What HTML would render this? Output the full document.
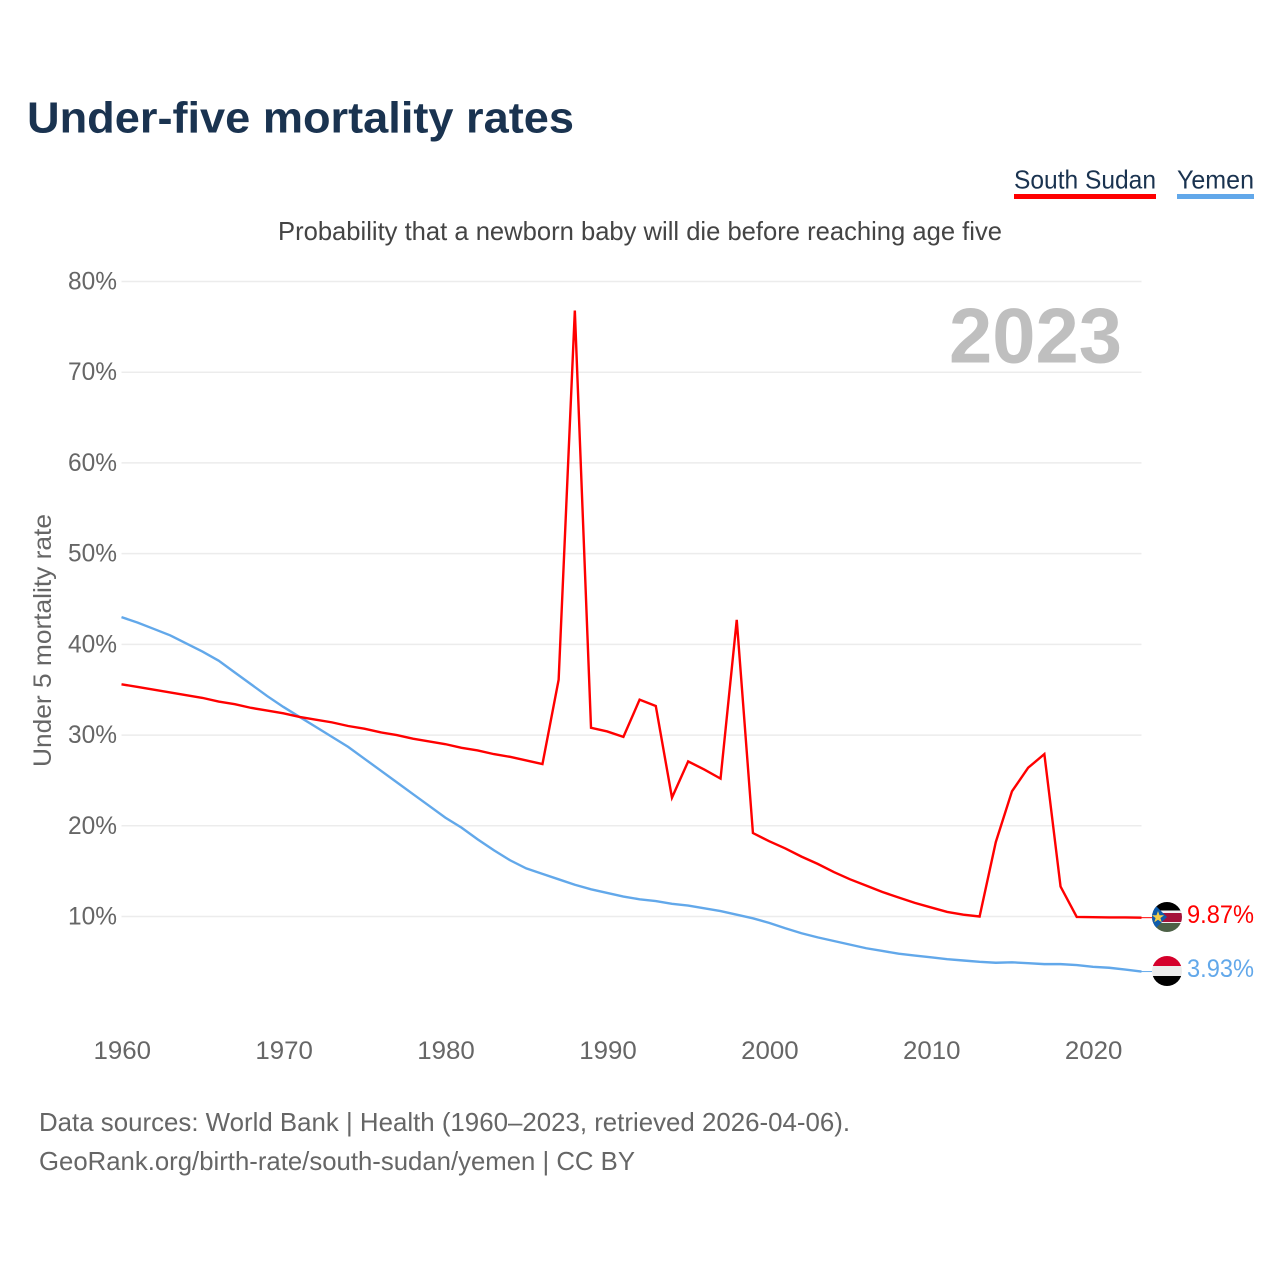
<!DOCTYPE html>
<html lang="en">
<head>
<meta charset="utf-8">
<title>Under-five mortality rates</title>
<style>
html,body{margin:0;padding:0;background:#fff;width:1280px;height:1280px;overflow:hidden}
svg{display:block}
text{font-family:"Liberation Sans",sans-serif}
</style>
</head>
<body>
<svg id="chart" xmlns="http://www.w3.org/2000/svg" width="1280" height="1280" viewBox="0 0 1280 1280">
  <rect width="1280" height="1280" fill="#fff"/>
  <text x="27" y="132.5" font-size="44" font-weight="700" fill="#1a3350" textLength="547" lengthAdjust="spacingAndGlyphs">Under-five mortality rates</text>
  <g>
    <text x="1014" y="188.5" font-size="26" fill="#1a3350" textLength="142" lengthAdjust="spacingAndGlyphs">South Sudan</text>
    <rect x="1014" y="194" width="142" height="5" fill="#ff0000"/>
  </g>
  <g>
    <text x="1177" y="188.5" font-size="26" fill="#1a3350" textLength="77" lengthAdjust="spacingAndGlyphs">Yemen</text>
    <rect x="1177" y="194" width="77" height="5" fill="#62a8ea"/>
  </g>
  <text x="278" y="240" font-size="26" fill="#444" textLength="724" lengthAdjust="spacingAndGlyphs">Probability that a newborn baby will die before reaching age five</text>
  <text transform="translate(51,767) rotate(-90)" font-size="25" fill="#666" textLength="253" lengthAdjust="spacingAndGlyphs">Under 5 mortality rate</text>
  <g id="grid"></g>
  <g id="yticks"></g>
  <g id="xticks"></g>
  <text x="949" y="362.5" font-size="78" font-weight="700" fill="#bfbfbf" textLength="173" lengthAdjust="spacingAndGlyphs">2023</text>
  <g id="series"></g>
  <defs>
    <clipPath id="clip-ss"><circle cx="1167" cy="917" r="15"/></clipPath>
    <clipPath id="clip-ye"><circle cx="1167" cy="971" r="15"/></clipPath>
  </defs>
  <g clip-path="url(#clip-ss)">
    <rect x="1152" y="902" width="30" height="10" fill="#000"/>
    <rect x="1152" y="910.5" width="30" height="13.5" fill="#f2f2f2"/>
    <rect x="1152" y="913" width="30" height="9" fill="#a5123a"/>
    <rect x="1152" y="923" width="30" height="9" fill="#4d6147"/>
    <polygon points="1152,902 1167,917 1152,932" fill="#0f5cab"/>
    <polygon points="1158,911 1159.5,915.2 1164,915.3 1160.4,918 1161.7,922.3 1158,919.8 1154.3,922.3 1155.6,918 1152,915.3 1156.5,915.2" fill="#f5cf4a"/>
  </g>
  <g clip-path="url(#clip-ye)">
    <rect x="1152" y="956" width="30" height="10" fill="#d5002b"/>
    <rect x="1152" y="966" width="30" height="10.5" fill="#ececec"/>
    <rect x="1152" y="976" width="30" height="10" fill="#000"/>
  </g>
  <text id="label-ss" x="1187" y="923" font-size="25" fill="#ff0000" textLength="67" lengthAdjust="spacingAndGlyphs"></text>
  <text id="label-ye" x="1187" y="977" font-size="25" fill="#62a8ea" textLength="67" lengthAdjust="spacingAndGlyphs"></text>
  <text x="39" y="1131" font-size="26" fill="#666" textLength="811" lengthAdjust="spacingAndGlyphs">Data sources: World Bank | Health (1960–2023, retrieved 2026-04-06).</text>
  <text x="39" y="1170" font-size="26" fill="#666" textLength="596" lengthAdjust="spacingAndGlyphs">GeoRank.org/birth-rate/south-sudan/yemen | CC BY</text>
</svg>
<script>
const years = [1960,1961,1962,1963,1964,1965,1966,1967,1968,1969,1970,1971,1972,1973,1974,1975,1976,1977,1978,1979,1980,1981,1982,1983,1984,1985,1986,1987,1988,1989,1990,1991,1992,1993,1994,1995,1996,1997,1998,1999,2000,2001,2002,2003,2004,2005,2006,2007,2008,2009,2010,2011,2012,2013,2014,2015,2016,2017,2018,2019,2020,2021,2022,2023];
const southSudan = [35.6,35.3,35.0,34.7,34.4,34.1,33.7,33.4,33.0,32.7,32.4,32.0,31.7,31.4,31.0,30.7,30.3,30.0,29.6,29.3,29.0,28.6,28.3,27.9,27.6,27.2,26.8,36.1,76.8,30.8,30.4,29.8,33.9,33.2,23.1,27.1,26.2,25.2,42.7,19.2,18.3,17.5,16.6,15.8,14.9,14.1,13.4,12.7,12.1,11.5,11.0,10.5,10.2,10.0,18.2,23.8,26.4,27.9,13.3,9.95,9.92,9.9,9.9,9.87];
const yemen = [43.0,42.4,41.7,41.0,40.1,39.2,38.2,36.9,35.6,34.3,33.1,32.0,30.9,29.8,28.7,27.4,26.1,24.8,23.5,22.2,20.9,19.8,18.5,17.3,16.2,15.3,14.7,14.1,13.5,13.0,12.6,12.2,11.9,11.7,11.4,11.2,10.9,10.6,10.2,9.8,9.3,8.7,8.15,7.7,7.3,6.9,6.5,6.2,5.9,5.7,5.5,5.3,5.15,5.0,4.9,4.95,4.85,4.75,4.75,4.65,4.45,4.35,4.15,3.93];
const yTickValues = [10,20,30,40,50,60,70,80];
const xTickValues = [1960,1970,1980,1990,2000,2010,2020];

const NS = 'http://www.w3.org/2000/svg';
const xOf = year => 121.5 + (year - 1960) * (1020 / 63);
const yOf = value => 916.5 - (value - 10) * (635 / 70);

function make(tag, attrs, parent) {
  const el = document.createElementNS(NS, tag);
  Object.keys(attrs).forEach(k => el.setAttribute(k, attrs[k]));
  parent.appendChild(el);
  return el;
}

const grid = document.getElementById('grid');
const yticks = document.getElementById('yticks');
yTickValues.forEach(v => {
  const line = make('line', {x1: 121.5, x2: 1141.5, y1: yOf(v), y2: yOf(v), stroke: '#ececec', 'stroke-width': 1.5}, grid);
  
  
  const t = make('text', {x: 68, y: yOf(v) + 8, 'font-size': 25, fill: '#666', textLength: 49, lengthAdjust: 'spacingAndGlyphs'}, yticks);
  
  
  t.textContent = v + '%';
});

const xticks = document.getElementById('xticks');
xTickValues.forEach(v => {
  const t = make('text', {x: xOf(v) - 28, y: 1059, 'font-size': 25, fill: '#666', textLength: 57.5, lengthAdjust: 'spacingAndGlyphs'}, xticks);
  
  
  t.textContent = v;
});

const series = document.getElementById('series');
function drawLine(values, colour) {
  const pts = values.map((v, i) => xOf(years[i]).toFixed(2) + ',' + yOf(v).toFixed(2)).join(' ');
  return make('polyline', {points: pts, fill: 'none', stroke: colour, 'stroke-width': 2.4, 'stroke-linejoin': 'miter'}, series);
}
const yemenLine = drawLine(yemen, '#62a8ea');


const ssLine = drawLine(southSudan, '#ff0000');



const lastSS = southSudan[southSudan.length - 1];
const lastYE = yemen[yemen.length - 1];
const connSS = make('line', {x1: 1141.5, x2: 1152, y1: yOf(lastSS), y2: yOf(lastSS), stroke: '#ff0000', 'stroke-width': 1}, series);


const connYE = make('line', {x1: 1141.5, x2: 1152, y1: yOf(lastYE), y2: yOf(lastYE), stroke: '#62a8ea', 'stroke-width': 1}, series);


document.getElementById('label-ss').textContent = lastSS.toFixed(2) + '%';
document.getElementById('label-ye').textContent = lastYE.toFixed(2) + '%';
</script>
</body>
</html>
